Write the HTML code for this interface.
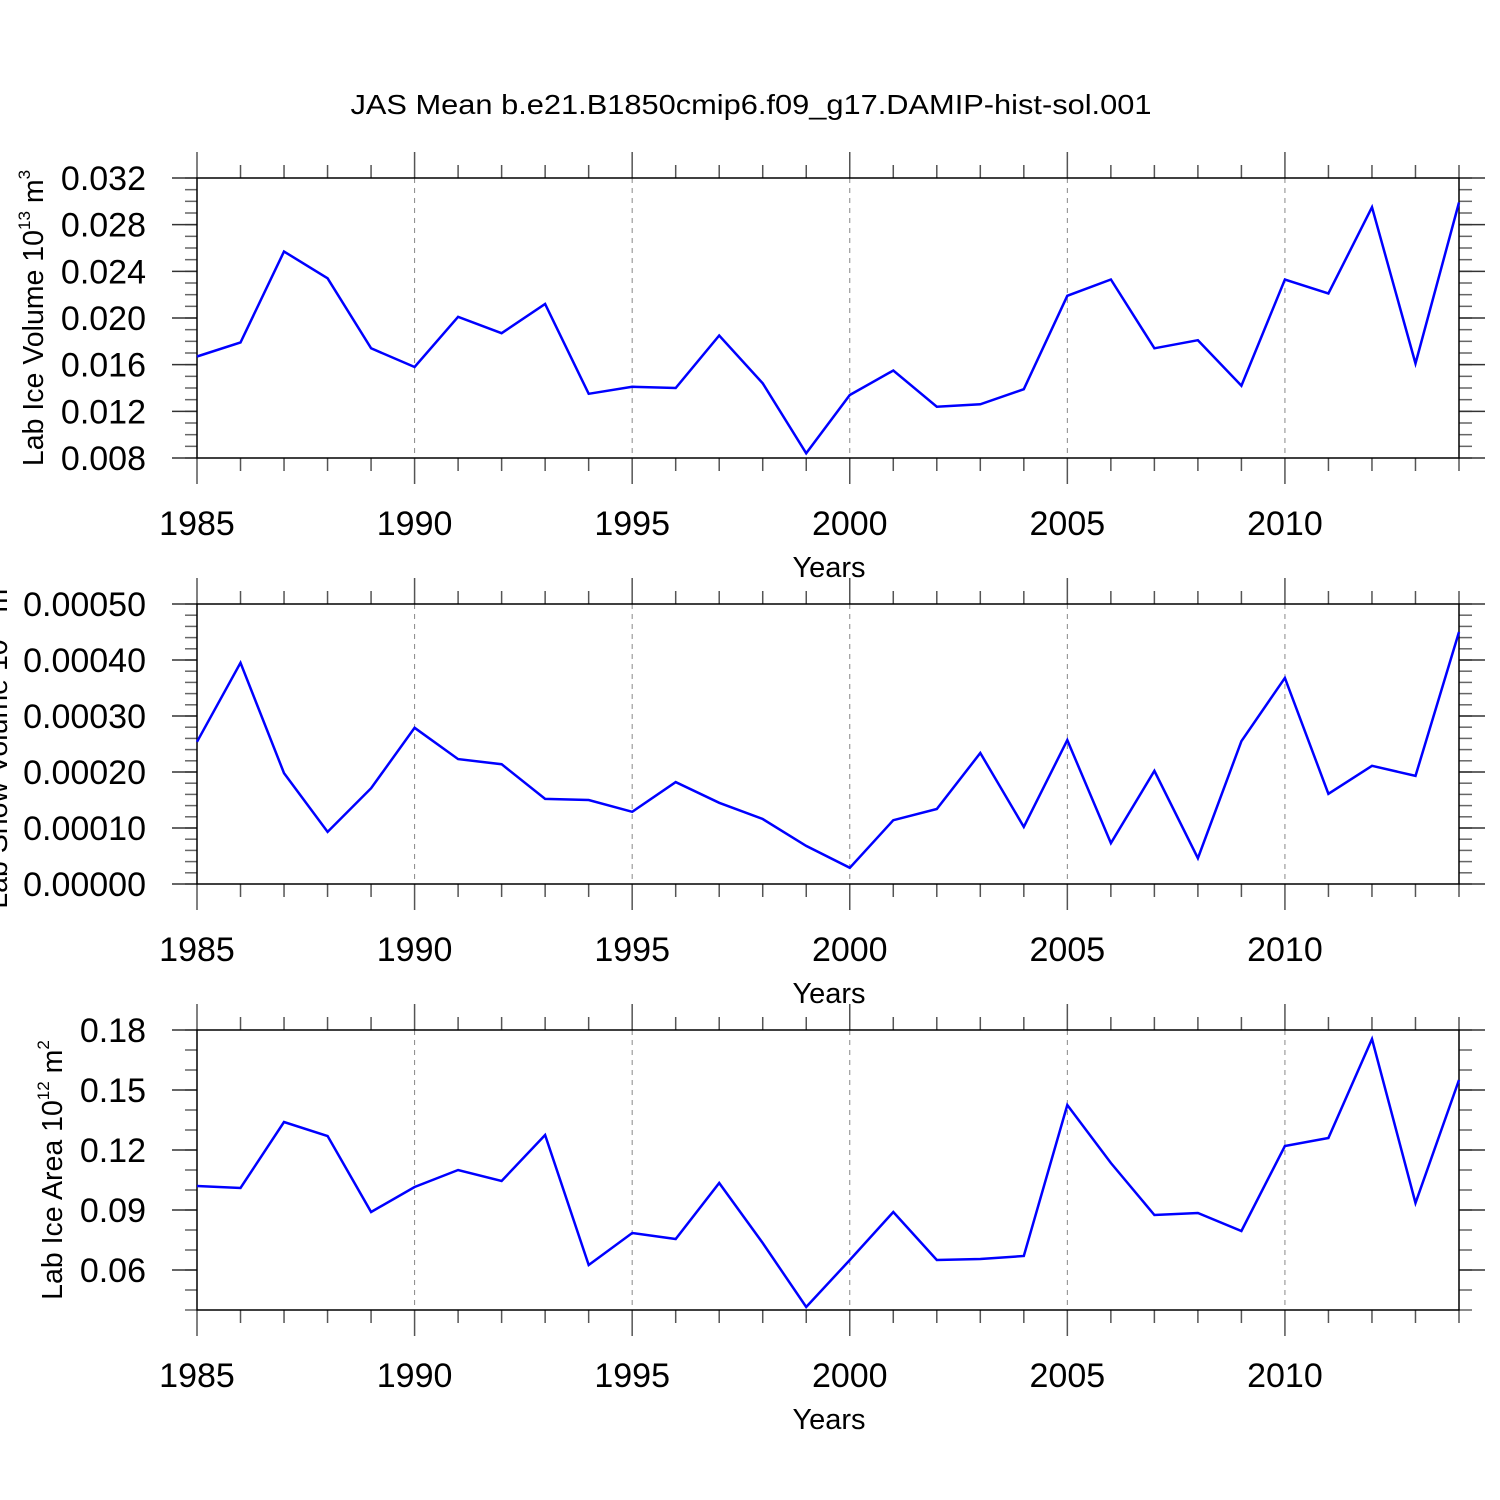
<!DOCTYPE html>
<html><head><meta charset="utf-8"><style>
html,body{margin:0;padding:0;background:#fff;}
svg{display:block;font-family:"Liberation Sans",Arial,sans-serif;}
</style></head><body>
<svg id="chart" width="1500" height="1500" viewBox="0 0 1500 1500" xmlns="http://www.w3.org/2000/svg">
<rect width="1500" height="1500" fill="#fff"/>
<text x="751" y="114" font-size="28" text-anchor="middle" textLength="801" lengthAdjust="spacingAndGlyphs">JAS Mean b.e21.B1850cmip6.f09_g17.DAMIP-hist-sol.001</text>
</svg>
<script>
const years = [1985,1986,1987,1988,1989,1990,1991,1992,1993,1994,1995,1996,1997,1998,1999,2000,2001,2002,2003,2004,2005,2006,2007,2008,2009,2010,2011,2012,2013,2014];
const iceVolume = [0.0167,0.0179,0.0257,0.0234,0.0174,0.0158,0.0201,0.0187,0.0212,0.0135,0.0141,0.0140,0.0185,0.0144,0.0084,0.0134,0.0155,0.0124,0.0126,0.0139,0.0219,0.0233,0.0174,0.0181,0.0142,0.0233,0.0221,0.0295,0.0161,0.0299];
const snowVolume = [0.000254,0.000395,0.000198,0.000093,0.000171,0.000279,0.000223,0.000214,0.000152,0.000150,0.000129,0.000182,0.000145,0.000116,0.000068,0.000029,0.000114,0.000134,0.000234,0.000102,0.000257,0.000073,0.000202,0.000046,0.000255,0.000368,0.000161,0.000211,0.000193,0.000450];
const iceArea = [0.102,0.101,0.134,0.127,0.089,0.1015,0.110,0.1045,0.1275,0.0625,0.0785,0.0755,0.1035,0.0735,0.0415,0.065,0.089,0.065,0.0655,0.067,0.1425,0.1135,0.0875,0.0885,0.0795,0.122,0.126,0.1755,0.0935,0.155];
const xTickLabels = ["1985","1990","1995","2000","2005","2010"];
const volTickLabels = ["0.008","0.012","0.016","0.020","0.024","0.028","0.032"];
const snowTickLabels = ["0.00000","0.00010","0.00020","0.00030","0.00040","0.00050"];
const areaTickLabels = ["0.06","0.09","0.12","0.15","0.18"];

const NS="http://www.w3.org/2000/svg";
const svg=document.getElementById('chart');
function mk(tag,attrs,parent){const e=document.createElementNS(NS,tag);for(const k in attrs)e.setAttribute(k,attrs[k]);(parent||svg).appendChild(e);return e;}

const X0=197,X1=1459;
function xs(yr){return X0+(yr-1985)/(2014-1985)*(X1-X0);}

const panels=[
 {name:'ice-volume',top:178,ymin:0.008,ymax:0.032,major:0.004,minor:0.001,labels:volTickLabels,data:iceVolume,lx:43,lab:['Lab Ice Volume 10','13',' m','3']},
 {name:'snow-volume',top:604,ymin:0,ymax:0.0005,major:0.0001,minor:0.00002,labels:snowTickLabels,data:snowVolume,lx:7,lab:['Lab Snow Volume 10','13',' m','3']},
 {name:'ice-area',top:1030,ymin:0.04,ymax:0.18,major:0.03,minor:0.01,labels:areaTickLabels,data:iceArea,lx:62,lab:['Lab Ice Area 10','12',' m','2'],majorStart:0.06}
];

panels.forEach(p=>{
  const H=280, top=p.top, bot=top+H;
  const g=mk('g',{});
  
  
  const ys=v=>bot-(v-p.ymin)/(p.ymax-p.ymin)*H;
  for(let yr=1990;yr<=2010;yr+=5){
    const l=mk('line',{x1:xs(yr),x2:xs(yr),y1:top,y2:bot,stroke:'#888','stroke-width':1,'stroke-dasharray':'5,5'},g);
    
    
  }
  years.forEach(yr=>{
    const maj=(yr%5===0), len=maj?26:13;
    mk('line',{x1:xs(yr),x2:xs(yr),y1:top-len,y2:top,stroke:'#555','stroke-width':1.5},g);
    mk('line',{x1:xs(yr),x2:xs(yr),y1:bot,y2:bot+len,stroke:'#555','stroke-width':1.5},g);
  });
  xTickLabels.forEach(t=>{
    const tx=mk('text',{x:xs(+t),y:bot+77,'font-size':34,'text-anchor':'middle'},g);
    tx.textContent=t;
    
    
  });
  const xt=mk('text',{x:829,y:bot+119,'font-size':29,'text-anchor':'middle'},g);
  xt.textContent='Years';
  
  
  const nMin=Math.round((p.ymax-p.ymin)/p.minor);
  for(let i=0;i<=nMin;i++){
    const v=p.ymin+i*p.minor, y=ys(v);
    mk('line',{x1:X0-12,x2:X0,y1:y,y2:y,stroke:'#666','stroke-width':1.5},g);
    mk('line',{x1:X1,x2:X1+13,y1:y,y2:y,stroke:'#666','stroke-width':1.5},g);
  }
  const ms=p.majorStart!==undefined?p.majorStart:p.ymin;
  p.labels.forEach((t,i)=>{
    const y=ys(ms+i*p.major);
    mk('line',{x1:X0-25,x2:X0,y1:y,y2:y,stroke:'#333','stroke-width':1.5},g);
    mk('line',{x1:X1,x2:X1+26,y1:y,y2:y,stroke:'#333','stroke-width':1.5},g);
    const tx=mk('text',{x:146,y:y+12,'font-size':34,'text-anchor':'end'},g);
    tx.textContent=t;
    
    
  });
  const fr=mk('rect',{x:X0,y:top,width:X1-X0,height:H,fill:'none',stroke:'#000','stroke-width':1.5},g);
  
  
  const cy=top+H/2;
  const yt=mk('text',{x:0,y:0,'font-size':28.5,'text-anchor':'middle',transform:`translate(${p.lx},${cy}) rotate(-90)`},g);
  
  
  p.lab.forEach((s,i)=>{
    const sp=mk('tspan',{},yt);
    if(i%2===1){sp.setAttribute('font-size','17');sp.setAttribute('dy','-13');}
    else if(i>0){sp.setAttribute('dy','13');}
    sp.textContent=s;
  });
  const pts=p.data.map((v,i)=>xs(years[i]).toFixed(1)+','+ys(v).toFixed(1)).join(' ');
  const pl=mk('polyline',{points:pts,fill:'none',stroke:'#0000ff','stroke-width':2.5,'stroke-linejoin':'miter'},g);
  
  
});
</script>
</body></html>
